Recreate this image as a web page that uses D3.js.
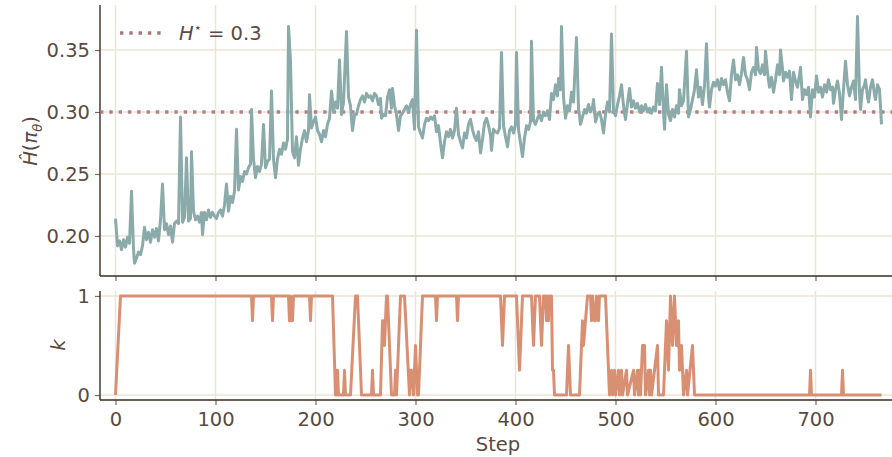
<!DOCTYPE html>
<html>
<head>
<meta charset="utf-8">
<script src="https://cdn.jsdelivr.net/npm/d3@7"></script>
<style>
  html, body { margin: 0; padding: 0; background: #fff; }
  svg { display: block; }
  text { font-family: "DejaVu Sans", sans-serif; }
</style>
</head>
<body>
<div id="chart"></div>
<script>
// entropy estimate per step
const entropySteps = [0,2,4,6,8,10,12,14,16,18,19,21,23,25,27,29,31,33,35,37,39,41,43,45,47,49,51,53,55,57,59,61,63,65,67,69,71,73,75,76,78,80,82,84,86,87,89,91,93,95,97,99,101,103,105,107,109,111,113,115,117,119,121,123,125,127,129,131,133,135,136,138,140,142,144,146,148,150,152,154,156,158,160,162,164,166,168,170,172,173,175,177,179,181,183,185,187,189,191,193,194,196,198,200,202,204,206,208,210,212,214,216,218,220,222,224,226,228,231,233,235,237,239,241,243,245,247,249,251,253,255,257,259,261,263,265,266,268,270,272,274,276,277,279,281,283,285,287,289,291,293,295,297,299,301,303,305,307,309,311,313,315,317,319,321,323,325,327,329,331,333,335,337,339,341,343,345,347,349,351,353,355,357,359,361,363,365,367,369,371,373,375,376,378,380,382,384,386,388,390,392,394,396,398,400,401,403,405,407,409,411,413,415,416,418,420,422,424,426,428,430,432,434,436,438,440,442,443,445,446,448,450,452,454,456,458,461,463,465,467,469,471,473,475,477,478,480,482,484,486,488,490,492,494,496,498,500,502,504,506,508,510,512,514,516,518,520,522,524,526,528,530,532,534,536,538,540,542,544,546,548,549,551,553,555,557,559,561,563,564,566,568,571,573,575,577,579,581,583,585,587,589,591,593,594,596,598,600,602,604,606,608,610,612,614,616,618,620,622,624,626,628,630,632,634,636,638,640,641,643,645,647,649,650,652,654,656,658,660,662,664,665,667,668,670,672,674,676,678,680,682,684,685,687,689,691,693,695,697,699,701,703,705,707,709,711,713,715,717,718,720,722,724,726,728,730,732,734,736,738,740,742,744,745,747,749,750,752,753,755,757,759,760,762,764,766]
const entropyValues = [0.214,0.192,0.196,0.189,0.197,0.191,0.199,0.194,0.236,0.190,0.178,0.182,0.187,0.185,0.192,0.207,0.197,0.203,0.195,0.205,0.199,0.206,0.196,0.213,0.242,0.205,0.210,0.201,0.208,0.195,0.210,0.212,0.210,0.296,0.211,0.215,0.263,0.212,0.214,0.268,0.220,0.213,0.216,0.211,0.219,0.201,0.219,0.213,0.221,0.215,0.219,0.216,0.214,0.219,0.221,0.216,0.225,0.242,0.220,0.232,0.227,0.236,0.286,0.237,0.248,0.244,0.252,0.250,0.255,0.258,0.302,0.262,0.247,0.256,0.252,0.258,0.290,0.255,0.260,0.262,0.317,0.262,0.247,0.262,0.270,0.266,0.275,0.270,0.278,0.369,0.341,0.268,0.263,0.280,0.257,0.270,0.279,0.285,0.276,0.285,0.314,0.287,0.292,0.296,0.285,0.282,0.276,0.285,0.280,0.290,0.295,0.317,0.300,0.308,0.303,0.342,0.298,0.308,0.365,0.312,0.305,0.285,0.298,0.298,0.305,0.310,0.313,0.308,0.315,0.312,0.313,0.309,0.315,0.313,0.306,0.311,0.295,0.298,0.297,0.312,0.318,0.303,0.319,0.305,0.298,0.285,0.297,0.299,0.302,0.305,0.300,0.306,0.310,0.286,0.366,0.288,0.283,0.279,0.290,0.295,0.293,0.296,0.294,0.297,0.284,0.289,0.275,0.263,0.276,0.284,0.280,0.286,0.279,0.285,0.303,0.282,0.276,0.271,0.283,0.279,0.290,0.294,0.286,0.280,0.277,0.284,0.267,0.278,0.291,0.295,0.289,0.281,0.269,0.286,0.284,0.283,0.287,0.348,0.289,0.280,0.272,0.285,0.288,0.283,0.290,0.348,0.286,0.275,0.264,0.279,0.289,0.286,0.292,0.357,0.293,0.290,0.295,0.298,0.293,0.300,0.297,0.301,0.294,0.315,0.310,0.322,0.313,0.327,0.318,0.369,0.312,0.295,0.305,0.301,0.316,0.308,0.360,0.303,0.290,0.296,0.302,0.299,0.306,0.300,0.304,0.310,0.292,0.298,0.300,0.294,0.283,0.298,0.308,0.300,0.363,0.301,0.297,0.306,0.313,0.322,0.305,0.294,0.307,0.319,0.304,0.309,0.303,0.307,0.300,0.305,0.301,0.306,0.300,0.303,0.299,0.304,0.301,0.323,0.306,0.336,0.300,0.286,0.322,0.298,0.293,0.302,0.296,0.305,0.299,0.318,0.305,0.309,0.349,0.296,0.302,0.310,0.318,0.334,0.312,0.320,0.306,0.321,0.355,0.312,0.304,0.318,0.324,0.321,0.326,0.318,0.327,0.322,0.326,0.316,0.309,0.330,0.342,0.326,0.330,0.322,0.331,0.344,0.330,0.326,0.318,0.332,0.336,0.330,0.352,0.334,0.331,0.338,0.330,0.349,0.332,0.320,0.328,0.316,0.326,0.338,0.330,0.350,0.335,0.325,0.332,0.328,0.333,0.310,0.332,0.325,0.320,0.330,0.336,0.310,0.318,0.314,0.320,0.296,0.318,0.312,0.329,0.316,0.320,0.312,0.322,0.316,0.326,0.318,0.320,0.307,0.318,0.325,0.315,0.294,0.318,0.341,0.322,0.313,0.320,0.325,0.310,0.377,0.316,0.302,0.318,0.322,0.326,0.312,0.308,0.320,0.326,0.314,0.310,0.322,0.318,0.290]

// k per step
const kSteps = [0,5,136,137,138,156,157,158,173,174,175,176,177,178,194,195,196,217,220,221,222,223,228,229,230,235,240,242,246,256,257,258,265,267,268,269,271,272,276,279,280,281,285,289,294,295,296,298,300,302,303,307,320,321,322,341,342,343,385,387,389,401,404,407,416,418,420,424,426,428,430,431,432,433,434,436,437,438,439,451,453,455,464,466,467,468,470,472,475,476,477,479,480,481,483,484,490,494,496,497,499,500,503,504,506,507,511,512,518,519,522,523,524,525,527,529,530,533,534,535,536,542,543,548,551,553,555,557,559,561,563,564,566,568,571,572,577,579,694,695,696,726,727,728,766]
const kValues = [0,1,1,0.75,1,1,0.75,1,1,0.75,1,0.75,0.75,1,1,0.75,1,1,0,0,0.25,0,0,0.25,0,0,1,1,0,0,0.25,0,0,0.75,0.75,0.5,1,1,0,0,0.25,0,1,1,0,0.25,0.25,0,0.5,0,0,1,1,0.75,1,1,0.75,1,1,0.5,1,1,0.25,1,1,0.5,1,1,0.5,1,1,0.75,1,0.75,1,1,0.25,0.25,0,0,0.5,0,0,0.5,0.75,0.5,0.75,1,1,0.75,1,0.75,0.75,1,0.75,1,1,0,0.25,0,0.25,0,0.25,0,0.25,0,0.25,0,0.25,0,0.25,0,0.25,0,0.5,0.5,0,0.25,0,0.25,0,0.5,0,0,0.75,0.25,1,0.5,1,0.5,0.75,0.25,0.5,0,0.25,0,0.5,0,0,0.25,0,0,0.25,0,0]

const targetH = 0.3
const xTicks = [0, 100, 200, 300, 400, 500, 600, 700]
const topYTicks = [0.20, 0.25, 0.30, 0.35]
const botYTicks = [0, 1]

const width = 892
const height = 457
const textColor = '#5a4a42'
const spineColor = '#3b2a1e'
const gridColor = '#ece5d4'

const svg = d3.select('#chart')
	.append('svg')
	.attr('width', width)
	.attr('height', height)

const xScale = d3.scaleLinear()
	.domain([-15.5, 776.5])
	.range([100, 892])

const yTop = d3.scaleLinear()
	.domain([0.1677, 0.3863])
	.range([276, 5])

const yBot = d3.scaleLinear()
	.domain([-0.05, 1.05])
	.range([400, 291])

function drawPanel(yScale, yTicks, top, bottom, fmt, showXLabels){
	// grid
	svg.append('g').selectAll('line')
		.data(xTicks).enter().append('line')
		.attr('x1', d => xScale(d)).attr('x2', d => xScale(d))
		.attr('y1', top).attr('y2', bottom)
		.attr('stroke', gridColor).attr('stroke-width', 1.5)
	svg.append('g').selectAll('line')
		.data(yTicks).enter().append('line')
		.attr('x1', 100).attr('x2', width)
		.attr('y1', d => yScale(d)).attr('y2', d => yScale(d))
		.attr('stroke', gridColor).attr('stroke-width', 1.5)

	let yG = svg.append('g')
		.attr('transform', 'translate(100,0)')
		.call(d3.axisLeft(yScale).tickValues(yTicks).tickFormat(fmt).tickSize(5).tickPadding(5))
	yG.select('.domain').remove()
	yG.selectAll('line').attr('stroke', '#7a6a60').attr('stroke-width', 1.2)
	yG.selectAll('text').attr('fill', textColor).attr('font-size', 19.5)
		.attr('font-family', 'DejaVu Sans')

	let xG = svg.append('g')
		.attr('transform', `translate(0,${bottom})`)
		.call(d3.axisBottom(xScale).tickValues(xTicks).tickSize(5).tickPadding(7)
			.tickFormat(showXLabels ? d3.format('d') : ''))
	xG.select('.domain').remove()
	xG.selectAll('line').attr('stroke', '#7a6a60').attr('stroke-width', 1.2)
	xG.selectAll('text').attr('fill', textColor).attr('font-size', 19.5)
		.attr('font-family', 'DejaVu Sans')

	// spines
	svg.append('line')
		.attr('x1', 100).attr('x2', 100).attr('y1', top).attr('y2', bottom)
		.attr('stroke', spineColor).attr('stroke-width', 1.4)
	svg.append('line')
		.attr('x1', 100).attr('x2', width).attr('y1', bottom).attr('y2', bottom)
		.attr('stroke', spineColor).attr('stroke-width', 1.4)
}

drawPanel(yTop, topYTicks, 5, 276, d3.format('.2f'), false)
drawPanel(yBot, botYTicks, 291, 400, d3.format('d'), true)

// target entropy line
svg.append('line')
	.attr('x1', 100).attr('x2', width)
	.attr('y1', yTop(targetH)).attr('y2', yTop(targetH))
	.attr('stroke', '#a8757f').attr('stroke-width', 3.4)
	.attr('stroke-dasharray', '3.4,5.9')
	.attr('opacity', 0.9)

const entropyData = entropySteps.map((s, i) => ({step: s, value: entropyValues[i]}))
const kData = kSteps.map((s, i) => ({step: s, value: kValues[i]}))

svg.append('path')
	.datum(entropyData)
	.attr('fill', 'none')
	.attr('stroke', '#8aabaa')
	.attr('stroke-width', 3)
	.attr('stroke-linejoin', 'round')
	.attr('d', d3.line().x(d => xScale(d.step)).y(d => yTop(d.value)))

svg.append('path')
	.datum(kData)
	.attr('fill', 'none')
	.attr('stroke', '#d98f72')
	.attr('stroke-width', 3)
	.attr('stroke-linejoin', 'round')
	.attr('d', d3.line().x(d => xScale(d.step)).y(d => yBot(d.value)))

// legend
svg.append('line')
	.attr('x1', 120).attr('x2', 162).attr('y1', 33).attr('y2', 33)
	.attr('stroke', '#a8757f').attr('stroke-width', 3.4)
	.attr('stroke-dasharray', '3.4,5.9')
let leg = svg.append('text')
	.attr('x', 179).attr('y', 40)
	.attr('font-size', 19.5)
	.attr('fill', textColor)
leg.append('tspan').attr('font-style', 'italic').text('H')
leg.append('tspan').attr('font-size', 13).attr('dy', -8).text('⋆')
leg.append('tspan').attr('dy', 8).text(' = 0.3')

// axis labels
let yl = svg.append('text')
	.attr('transform', 'translate(37,141) rotate(-90)')
	.attr('text-anchor', 'middle')
	.attr('font-size', 19.5)
	.attr('fill', textColor)
yl.append('tspan').attr('font-style', 'italic').text('H\u0302')
yl.append('tspan').text('(')
yl.append('tspan').attr('font-style', 'italic').text('π')
yl.append('tspan').attr('font-style', 'italic').attr('font-size', 13).attr('dy', 5).text('θ')
yl.append('tspan').attr('dy', -5).text(')')

svg.append('text')
	.attr('transform', 'translate(65,345) rotate(-90)')
	.attr('text-anchor', 'middle')
	.attr('font-size', 19.5)
	.attr('font-style', 'italic')
	.attr('fill', textColor)
	.text('k')

svg.append('text')
	.attr('x', 498).attr('y', 451)
	.attr('text-anchor', 'middle')
	.attr('font-size', 19.5)
	.attr('fill', textColor)
	.text('Step')
</script>
</body>
</html>
